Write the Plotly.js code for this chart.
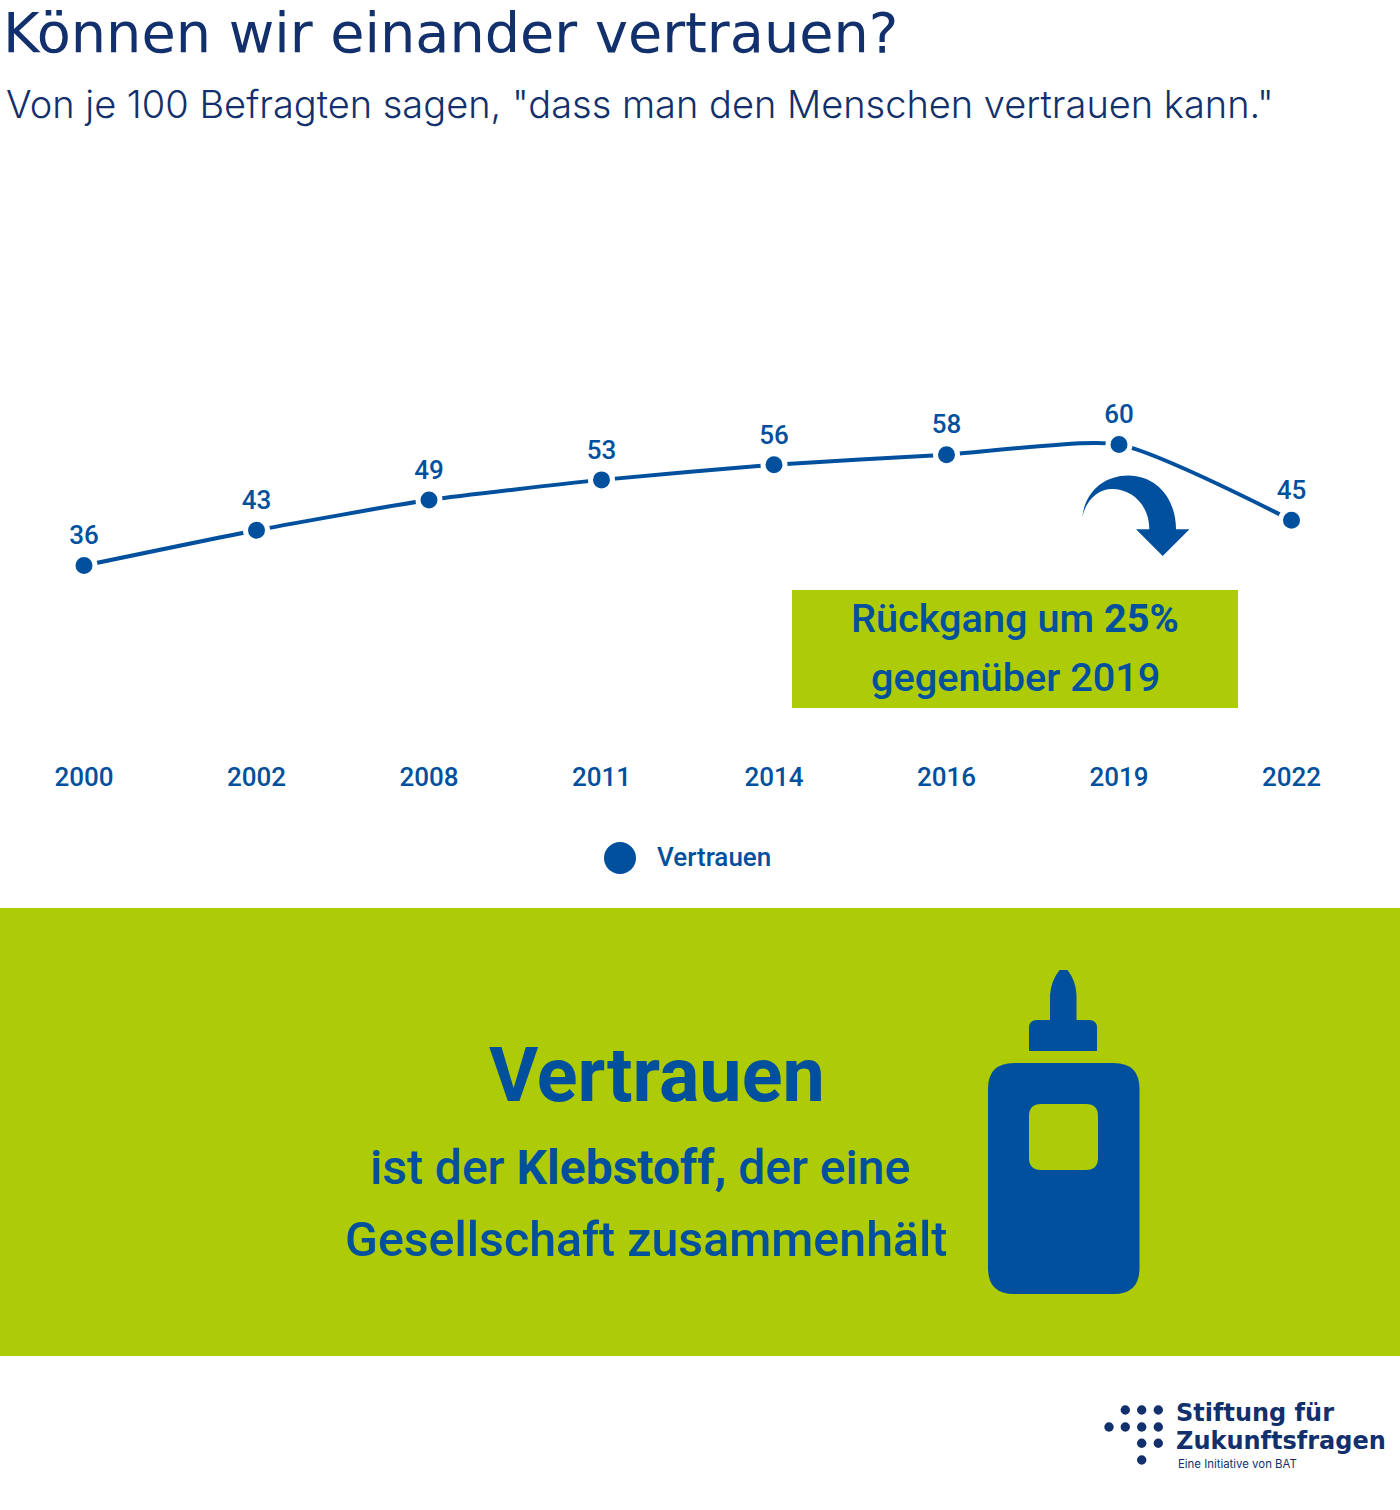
<!DOCTYPE html>
<html>
<head>
<meta charset="utf-8">
<script src="https://cdn.plot.ly/plotly-3.0.1.min.js"></script>
<style>
  html, body { margin: 0; padding: 0; background: #fff; }
</style>
</head>
<body>
<div id="myDiv" style="width:1400px;height:1510px;"></div>
<script>
// Chart data
var years = ['2000', '2002', '2008', '2011', '2014', '2016', '2019', '2022'];
var vertrauen = [36, 43, 49, 53, 56, 58, 60, 45];
var seriesName = 'Vertrauen';

var W = 1400, H = 1510;
var blue = '#00509E', green = '#AECB08', navy = '#12306C';
var head = 'Inter, sans-serif';
var wide = 'DejaVu Sans, sans-serif';
var body = 'Roboto, sans-serif';

// pixel -> paper helpers, the picture is laid out in pixels
function px(x) { return x / W; }
function py(y) { return 1 - y / H; }
function P(x, y) { return px(x) + ',' + py(y); }

function rect(x0, y0, x1, y1, color) {
    return { type: 'rect', xref: 'paper', yref: 'paper', x0: px(x0), x1: px(x1), y0: py(y0), y1: py(y1),
             fillcolor: color, line: { width: 0 }, layer: 'below' };
}
function dot(x, y, r, color) {
    return { type: 'circle', xref: 'paper', yref: 'paper', x0: px(x - r), x1: px(x + r), y0: py(y - r), y1: py(y + r),
             fillcolor: color, line: { width: 0 }, layer: 'above' };
}
function path(d, color) {
    return { type: 'path', xref: 'paper', yref: 'paper', path: d, fillcolor: color, line: { width: 0 }, layer: 'above' };
}
function roundRect(x0, y0, x1, y1, r) {
    return 'M' + P(x0 + r, y0) + ' L' + P(x1 - r, y0) + ' Q' + P(x1, y0) + ' ' + P(x1, y0 + r) +
           ' L' + P(x1, y1 - r) + ' Q' + P(x1, y1) + ' ' + P(x1 - r, y1) +
           ' L' + P(x0 + r, y1) + ' Q' + P(x0, y1) + ' ' + P(x0, y1 - r) +
           ' L' + P(x0, y0 + r) + ' Q' + P(x0, y0) + ' ' + P(x0 + r, y0) + ' Z';
}
function label(text, x, y, size, color, opts) {
    opts = opts || {};
    return { text: text, xref: 'paper', yref: 'paper', x: px(x), y: py(y), showarrow: false,
             xanchor: opts.anchor || 'center', yanchor: 'middle',
             font: { family: opts.family || body, size: size, color: color, weight: opts.weight || 500 } };
}

var trace1 = {
    x: years,
    y: vertrauen,
    type: 'scatter',
    mode: 'lines+markers+text',
    name: seriesName,
    text: vertrauen.map(String),
    textposition: 'top center',
    textfont: { family: body, size: 26, color: blue, weight: 500 },
    line: { color: blue, width: 4, shape: 'spline', smoothing: 0.6 },
    marker: { color: blue, size: 22, line: { color: '#fff', width: 5 } },
    cliponaxis: false,
    hoverinfo: 'x+y'
};

var shapes = [
    rect(792, 590, 1238, 708, green),
    rect(0, 908, 1400, 1356, green),
    // legend marker
    dot(620, 858, 16, blue),
    // down arrow
    path('M' + P(1082.3, 517) + ' C' + P(1085, 492) + ' ' + P(1104, 475.5) + ' ' + P(1128.3, 475.5) +
         ' C' + P(1156, 475.5) + ' ' + P(1176, 498) + ' ' + P(1176, 529.3) +
         ' L' + P(1189.5, 529.3) + ' L' + P(1162.7, 556) + ' L' + P(1136, 529.3) + ' L' + P(1149.3, 529.3) +
         ' C' + P(1149.3, 505) + ' ' + P(1132, 489) + ' ' + P(1112, 489) +
         ' C' + P(1098, 489) + ' ' + P(1086, 500) + ' ' + P(1082.3, 517) + ' Z', blue),
    // glue bottle
    path(roundRect(988, 1063, 1139.5, 1294, 26), blue),
    path(roundRect(1029, 1104, 1098, 1170, 12), green),
    path('M' + P(1029, 1051) + ' L' + P(1029, 1028) + ' Q' + P(1029, 1020) + ' ' + P(1037, 1020) +
         ' L' + P(1050, 1020) + ' L' + P(1050, 995) + ' Q' + P(1051, 981) + ' ' + P(1059.5, 970) +
         ' L' + P(1067.5, 970) + ' Q' + P(1076, 981) + ' ' + P(1076.5, 995) +
         ' L' + P(1076.5, 1020) + ' L' + P(1089, 1020) + ' Q' + P(1097, 1020) + ' ' + P(1097, 1028) +
         ' L' + P(1097, 1051) + ' Z', blue)
];

// logo dots
var logoX = [1125.3, 1141.7, 1158.3, 1109, 1125.3, 1141.7, 1158.3, 1141.7, 1158.3, 1141.7];
var logoY = [1410, 1410, 1410, 1427, 1427, 1427, 1427, 1443.3, 1443.3, 1460];
logoX.forEach(function (x, i) { shapes.push(dot(x, logoY[i], 4.7, navy)); });

var layout = {
    width: W,
    height: H,
    margin: { l: 0, r: 0, t: 0, b: 0 },
    paper_bgcolor: '#fff',
    plot_bgcolor: 'rgba(0,0,0,0)',
    showlegend: false,
    title: { text: 'Können wir einander vertrauen?', x: px(3), xanchor: 'left', xref: 'paper',
             y: py(33), yanchor: 'middle', yref: 'paper',
             font: { family: wide, size: 55.7, color: navy, weight: 400 } },
    xaxis: {
        type: 'category',
        range: [-84 / 172.5, (W - 84) / 172.5],
        showgrid: false, zeroline: false, showline: false,
        ticks: 'outside', ticklen: 7, tickcolor: 'rgba(0,0,0,0)',
        tickfont: { family: body, size: 26, color: blue, weight: 500 }
    },
    yaxis: {
        range: [0, 100],
        domain: [py(747), py(243)],
        visible: false
    },
    shapes: shapes,
    annotations: [
        label('Von je 100 Befragten sagen, "dass man den Menschen vertrauen kann."', 4, 104, 38, navy, { anchor: 'left', family: head, weight: 300 }),
        label(seriesName, 655, 857, 26, blue, { anchor: 'left' }),
        label('Rückgang um <b>25%</b>', 1015, 618, 39.7, blue),
        label('gegenüber 2019', 1015, 677, 39.7, blue),
        label('Vertrauen', 657, 1075, 75.5, blue, { weight: 700 }),
        label('ist der <b>Klebstoff,</b> der eine', 640, 1167, 48, blue),
        label('Gesellschaft zusammenhält', 646, 1239, 48.3, blue),
        label('Stiftung für', 1174, 1413, 24, navy, { anchor: 'left', family: wide, weight: 700 }),
        label('Zukunftsfragen', 1174, 1441, 24, navy, { anchor: 'left', family: wide, weight: 700 }),
        label('Eine Initiative von BAT', 1176, 1464, 11.4, navy, { anchor: 'left', family: head, weight: 400 })
    ]
};

Plotly.newPlot('myDiv', [trace1], layout, { displayModeBar: false, staticPlot: true });
</script>
</body>
</html>
